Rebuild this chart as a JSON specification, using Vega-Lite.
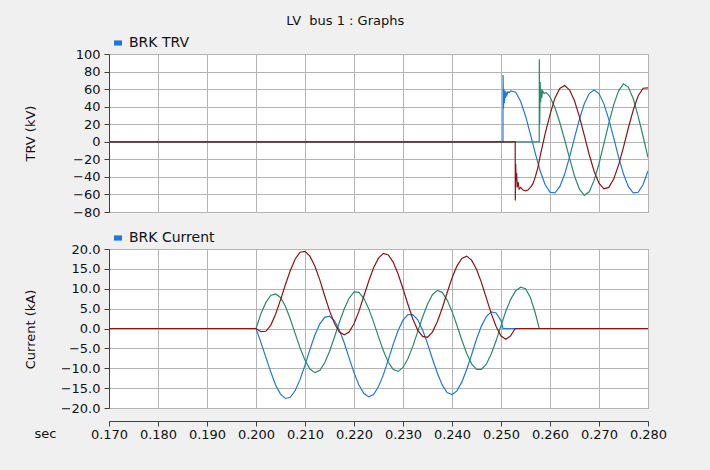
{
  "$schema": "https://vega.github.io/schema/vega-lite/v6.json",
  "background": "#f0f0f0",
  "padding": {"left": 23, "top": 14, "right": 43, "bottom": 28},
  "title": {"text": "LV\u00a0 bus 1 : Graphs", "fontSize": 13, "font": "DejaVu Sans", "fontWeight": "normal", "color": "#111111", "anchor": "middle", "offset": 8},
  "config": {
    "font": "DejaVu Sans",
    "view": {"fill": "#ffffff", "stroke": "#a0a0a0"},
    "axis": {"zindex": 1, "labelFont": "DejaVu Sans", "labelFontSize": 13, "labelColor": "#111111", "titleFont": "DejaVu Sans", "titleFontSize": 13, "titleFontWeight": "normal", "titleColor": "#111111", "gridColor": "#b4b4b4", "gridOpacity": 1, "gridWidth": 1, "domainColor": "#404040", "tickColor": "#404040", "tickSize": 5, "labelPadding": 4},
    "legend": {"labelFont": "DejaVu Sans", "labelFontSize": 14, "labelColor": "#111111"}
  },
  "datasets": {
    "cur": [
      {"p":"a","t":0.17,"v":0},{"p":"a","t":0.2,"v":0},{"p":"a","t":0.201,"v":-3.5},{"p":"a","t":0.202,"v":-7.2},{"p":"a","t":0.203,"v":-10.9},{"p":"a","t":0.204,"v":-14.2},{"p":"a","t":0.205,"v":-16.5},{"p":"a","t":0.206,"v":-17.6},{"p":"a","t":0.207,"v":-17.3},{"p":"a","t":0.208,"v":-15.6},{"p":"a","t":0.209,"v":-12.8},{"p":"a","t":0.21,"v":-9.2},{"p":"a","t":0.211,"v":-5.3},{"p":"a","t":0.212,"v":-1.7},{"p":"a","t":0.213,"v":1.1},{"p":"a","t":0.214,"v":2.8},{"p":"a","t":0.215,"v":3.1},{"p":"a","t":0.216,"v":2.0},{"p":"a","t":0.217,"v":-0.3},{"p":"a","t":0.218,"v":-3.6},{"p":"a","t":0.219,"v":-7.4},{"p":"a","t":0.22,"v":-11.1},{"p":"a","t":0.221,"v":-14.2},{"p":"a","t":0.222,"v":-16.3},{"p":"a","t":0.223,"v":-17.2},{"p":"a","t":0.224,"v":-16.6},{"p":"a","t":0.225,"v":-14.6},{"p":"a","t":0.226,"v":-11.6},{"p":"a","t":0.227,"v":-7.9},{"p":"a","t":0.228,"v":-4.0},{"p":"a","t":0.229,"v":-0.5},{"p":"a","t":0.23,"v":2.1},{"p":"a","t":0.231,"v":3.5},{"p":"a","t":0.232,"v":3.5},{"p":"a","t":0.233,"v":2.2},{"p":"a","t":0.234,"v":-0.4},{"p":"a","t":0.235,"v":-3.8},{"p":"a","t":0.236,"v":-7.6},{"p":"a","t":0.237,"v":-11.2},{"p":"a","t":0.238,"v":-14.2},{"p":"a","t":0.239,"v":-16.1},{"p":"a","t":0.24,"v":-16.6},{"p":"a","t":0.241,"v":-15.7},{"p":"a","t":0.242,"v":-13.5},{"p":"a","t":0.243,"v":-10.3},{"p":"a","t":0.244,"v":-6.6},{"p":"a","t":0.245,"v":-2.7},{"p":"a","t":0.246,"v":0.6},{"p":"a","t":0.247,"v":3.0},{"p":"a","t":0.248,"v":4.2},{"p":"a","t":0.249,"v":3.9},{"p":"a","t":0.25,"v":2.0},{"p":"a","t":0.2504,"v":0},{"p":"a","t":0.28,"v":0},
      {"p":"b","t":0.17,"v":0},{"p":"b","t":0.2,"v":0},{"p":"b","t":0.201,"v":3.7},{"p":"b","t":0.202,"v":6.5},{"p":"b","t":0.203,"v":8.3},{"p":"b","t":0.204,"v":8.7},{"p":"b","t":0.205,"v":7.8},{"p":"b","t":0.206,"v":5.6},{"p":"b","t":0.207,"v":2.4},{"p":"b","t":0.208,"v":-1.3},{"p":"b","t":0.209,"v":-4.9},{"p":"b","t":0.21,"v":-8.0},{"p":"b","t":0.211,"v":-10.2},{"p":"b","t":0.212,"v":-11.1},{"p":"b","t":0.213,"v":-10.6},{"p":"b","t":0.214,"v":-8.7},{"p":"b","t":0.215,"v":-5.8},{"p":"b","t":0.216,"v":-2.2},{"p":"b","t":0.217,"v":1.5},{"p":"b","t":0.218,"v":4.9},{"p":"b","t":0.219,"v":7.6},{"p":"b","t":0.22,"v":9.2},{"p":"b","t":0.221,"v":9.1},{"p":"b","t":0.222,"v":7.6},{"p":"b","t":0.223,"v":5.0},{"p":"b","t":0.224,"v":1.6},{"p":"b","t":0.225,"v":-2.1},{"p":"b","t":0.226,"v":-5.6},{"p":"b","t":0.227,"v":-8.5},{"p":"b","t":0.228,"v":-10.3},{"p":"b","t":0.229,"v":-10.8},{"p":"b","t":0.23,"v":-9.8},{"p":"b","t":0.231,"v":-7.6},{"p":"b","t":0.232,"v":-4.5},{"p":"b","t":0.233,"v":-0.8},{"p":"b","t":0.234,"v":2.9},{"p":"b","t":0.235,"v":6.1},{"p":"b","t":0.236,"v":8.5},{"p":"b","t":0.237,"v":9.6},{"p":"b","t":0.238,"v":9.1},{"p":"b","t":0.239,"v":7.2},{"p":"b","t":0.24,"v":4.3},{"p":"b","t":0.241,"v":0.8},{"p":"b","t":0.242,"v":-2.9},{"p":"b","t":0.243,"v":-6.3},{"p":"b","t":0.244,"v":-8.9},{"p":"b","t":0.245,"v":-10.3},{"p":"b","t":0.246,"v":-10.3},{"p":"b","t":0.247,"v":-9.0},{"p":"b","t":0.248,"v":-6.4},{"p":"b","t":0.249,"v":-3.1},{"p":"b","t":0.25,"v":0.7},{"p":"b","t":0.251,"v":4.4},{"p":"b","t":0.252,"v":7.4},{"p":"b","t":0.253,"v":9.5},{"p":"b","t":0.254,"v":10.4},{"p":"b","t":0.255,"v":10.0},{"p":"b","t":0.256,"v":7.8},{"p":"b","t":0.257,"v":3.9},{"p":"b","t":0.2578,"v":0},{"p":"b","t":0.28,"v":0},
      {"p":"c","t":0.17,"v":0},{"p":"c","t":0.2,"v":0},{"p":"c","t":0.201,"v":-0.8},{"p":"c","t":0.202,"v":-0.7},{"p":"c","t":0.203,"v":0.8},{"p":"c","t":0.204,"v":3.6},{"p":"c","t":0.205,"v":7.2},{"p":"c","t":0.206,"v":11.0},{"p":"c","t":0.207,"v":14.6},{"p":"c","t":0.208,"v":17.5},{"p":"c","t":0.209,"v":19.2},{"p":"c","t":0.21,"v":19.4},{"p":"c","t":0.211,"v":18.2},{"p":"c","t":0.212,"v":15.7},{"p":"c","t":0.213,"v":12.3},{"p":"c","t":0.214,"v":8.3},{"p":"c","t":0.215,"v":4.5},{"p":"c","t":0.216,"v":1.3},{"p":"c","t":0.217,"v":-0.9},{"p":"c","t":0.218,"v":-1.6},{"p":"c","t":0.219,"v":-0.9},{"p":"c","t":0.22,"v":1.2},{"p":"c","t":0.221,"v":4.3},{"p":"c","t":0.222,"v":8.1},{"p":"c","t":0.223,"v":11.9},{"p":"c","t":0.224,"v":15.3},{"p":"c","t":0.225,"v":17.7},{"p":"c","t":0.226,"v":18.9},{"p":"c","t":0.227,"v":18.5},{"p":"c","t":0.228,"v":16.7},{"p":"c","t":0.229,"v":13.7},{"p":"c","t":0.23,"v":10.0},{"p":"c","t":0.231,"v":6.1},{"p":"c","t":0.232,"v":2.4},{"p":"c","t":0.233,"v":-0.4},{"p":"c","t":0.234,"v":-2.0},{"p":"c","t":0.235,"v":-2.2},{"p":"c","t":0.236,"v":-0.9},{"p":"c","t":0.237,"v":1.7},{"p":"c","t":0.238,"v":5.1},{"p":"c","t":0.239,"v":9.0},{"p":"c","t":0.24,"v":12.7},{"p":"c","t":0.241,"v":15.7},{"p":"c","t":0.242,"v":17.6},{"p":"c","t":0.243,"v":18.2},{"p":"c","t":0.244,"v":17.2},{"p":"c","t":0.245,"v":14.9},{"p":"c","t":0.246,"v":11.6},{"p":"c","t":0.247,"v":7.7},{"p":"c","t":0.248,"v":3.8},{"p":"c","t":0.249,"v":0.5},{"p":"c","t":0.25,"v":-1.9},{"p":"c","t":0.251,"v":-2.7},{"p":"c","t":0.252,"v":-1.8},{"p":"c","t":0.2529,"v":0},{"p":"c","t":0.28,"v":0}
    ],
    "trv": [
      {"p":"a","t":0.17,"v":0},{"p":"a","t":0.2504,"v":0},{"p":"a","t":0.25042,"v":76},{"p":"a","t":0.2505,"v":38},{"p":"a","t":0.2506,"v":60},{"p":"a","t":0.2507,"v":44},{"p":"a","t":0.2508,"v":58},{"p":"a","t":0.2509,"v":50},{"p":"a","t":0.251,"v":57},{"p":"a","t":0.2512,"v":53},{"p":"a","t":0.2514,"v":57},{"p":"a","t":0.2517,"v":56},{"p":"a","t":0.252,"v":58},{"p":"a","t":0.253,"v":56.4},{"p":"a","t":0.254,"v":46.1},{"p":"a","t":0.255,"v":29.5},{"p":"a","t":0.256,"v":8.8},{"p":"a","t":0.257,"v":-13.2},{"p":"a","t":0.258,"v":-33.3},{"p":"a","t":0.259,"v":-48.7},{"p":"a","t":0.26,"v":-57.5},{"p":"a","t":0.261,"v":-58.3},{"p":"a","t":0.262,"v":-51.1},{"p":"a","t":0.263,"v":-36.8},{"p":"a","t":0.264,"v":-17.3},{"p":"a","t":0.265,"v":4.4},{"p":"a","t":0.266,"v":25.6},{"p":"a","t":0.267,"v":43.3},{"p":"a","t":0.268,"v":54.9},{"p":"a","t":0.269,"v":59.0},{"p":"a","t":0.27,"v":54.9},{"p":"a","t":0.271,"v":43.2},{"p":"a","t":0.272,"v":25.6},{"p":"a","t":0.273,"v":4.4},{"p":"a","t":0.274,"v":-17.5},{"p":"a","t":0.275,"v":-36.8},{"p":"a","t":0.276,"v":-51.1},{"p":"a","t":0.277,"v":-58.3},{"p":"a","t":0.278,"v":-57.5},{"p":"a","t":0.279,"v":-48.7},{"p":"a","t":0.28,"v":-33.3},
      {"p":"b","t":0.17,"v":0},{"p":"b","t":0.2578,"v":0},{"p":"b","t":0.25782,"v":94},{"p":"b","t":0.2579,"v":20},{"p":"b","t":0.258,"v":68},{"p":"b","t":0.2581,"v":45},{"p":"b","t":0.2582,"v":60},{"p":"b","t":0.2583,"v":50},{"p":"b","t":0.2585,"v":58},{"p":"b","t":0.2588,"v":55},{"p":"b","t":0.2592,"v":56},{"p":"b","t":0.2596,"v":54},{"p":"b","t":0.26,"v":51},{"p":"b","t":0.261,"v":39},{"p":"b","t":0.262,"v":22},{"p":"b","t":0.263,"v":2},{"p":"b","t":0.264,"v":-19},{"p":"b","t":0.265,"v":-39},{"p":"b","t":0.266,"v":-54},{"p":"b","t":0.267,"v":-61},{"p":"b","t":0.268,"v":-57},{"p":"b","t":0.269,"v":-44},{"p":"b","t":0.27,"v":-25},{"p":"b","t":0.271,"v":-2},{"p":"b","t":0.272,"v":21},{"p":"b","t":0.273,"v":42},{"p":"b","t":0.274,"v":58},{"p":"b","t":0.275,"v":66},{"p":"b","t":0.276,"v":62},{"p":"b","t":0.277,"v":49},{"p":"b","t":0.278,"v":29},{"p":"b","t":0.279,"v":6},{"p":"b","t":0.28,"v":-18},
      {"p":"c","t":0.17,"v":0},{"p":"c","t":0.2529,"v":0},{"p":"c","t":0.25292,"v":-67},{"p":"c","t":0.253,"v":-25},{"p":"c","t":0.2531,"v":-45},{"p":"c","t":0.2532,"v":-36},{"p":"c","t":0.2533,"v":-52},{"p":"c","t":0.2535,"v":-46},{"p":"c","t":0.2537,"v":-54},{"p":"c","t":0.254,"v":-52},{"p":"c","t":0.2545,"v":-55},{"p":"c","t":0.255,"v":-56},{"p":"c","t":0.2555,"v":-55},{"p":"c","t":0.256,"v":-52},{"p":"c","t":0.2565,"v":-48},{"p":"c","t":0.257,"v":-40},{"p":"c","t":0.2575,"v":-30},{"p":"c","t":0.258,"v":-16},{"p":"c","t":0.259,"v":9},{"p":"c","t":0.26,"v":31},{"p":"c","t":0.261,"v":49.7},{"p":"c","t":0.262,"v":60.7},{"p":"c","t":0.263,"v":64.0},{"p":"c","t":0.264,"v":59.0},{"p":"c","t":0.265,"v":46.7},{"p":"c","t":0.266,"v":28.6},{"p":"c","t":0.267,"v":7.2},{"p":"c","t":0.268,"v":-14.5},{"p":"c","t":0.269,"v":-33.5},{"p":"c","t":0.27,"v":-47.2},{"p":"c","t":0.271,"v":-53.6},{"p":"c","t":0.272,"v":-52.0},{"p":"c","t":0.273,"v":-42.5},{"p":"c","t":0.274,"v":-26.3},{"p":"c","t":0.275,"v":-6.0},{"p":"c","t":0.276,"v":16.0},{"p":"c","t":0.277,"v":36.4},{"p":"c","t":0.278,"v":52.5},{"p":"c","t":0.279,"v":61.0},{"p":"c","t":0.28,"v":61.5}
    ]
  },
  "spacing": 10,
  "resolve": {"scale": {"color": "independent"}, "legend": {"color": "independent"}},
  "vconcat": [
    {
      "width": 539,
      "height": 158,
      "layer": [
        {
          "mark": {"type": "rect", "fill": "#ffffff", "stroke": null},
          "encoding": {
            "x": {"datum": 0.17, "type": "quantitative", "scale": {"domain": [0.17, 0.28], "nice": false, "zero": false},
                  "axis": {"values": [0.17, 0.18, 0.19, 0.2, 0.21, 0.22, 0.23, 0.24, 0.25, 0.26, 0.27, 0.28], "labels": false, "ticks": false, "domain": false, "title": null, "grid": true}},
            "x2": {"datum": 0.28},
            "y": {"datum": -80, "type": "quantitative", "scale": {"domain": [-80, 100], "nice": false, "zero": false},
                  "axis": {"title": "TRV (kV)", "values": [-80, -60, -40, -20, 0, 20, 40, 60, 80, 100], "format": "d", "grid": true, "titleX": -79, "titleY": 79, "titleBaseline": "middle", "titleAlign": "center", "labelFlush": false, "labelOverlap": false}},
            "y2": {"datum": 100}
          }
        },
        {
          "data": {"name": "trv"},
          "mark": {"type": "line", "strokeWidth": 1.2, "clip": true},
          "encoding": {
            "x": {"field": "t", "type": "quantitative", "scale": {"domain": [0.17, 0.28], "nice": false, "zero": false},
                  "axis": {"values": [0.17, 0.18, 0.19, 0.2, 0.21, 0.22, 0.23, 0.24, 0.25, 0.26, 0.27, 0.28], "labels": false, "ticks": false, "domain": false, "title": null, "grid": true}},
            "y": {"field": "v", "type": "quantitative", "scale": {"domain": [-80, 100], "nice": false, "zero": false},
                  "axis": {"title": "TRV (kV)", "values": [-80, -60, -40, -20, 0, 20, 40, 60, 80, 100], "format": "d", "grid": true, "titleX": -79, "titleY": 79, "titleBaseline": "middle", "titleAlign": "center", "labelFlush": false, "labelOverlap": false}},
            "color": {"field": "p", "type": "nominal", "scale": {"domain": ["a", "b", "c"], "range": ["#1f78d8", "#2a8a6c", "#8c1217"]},
                      "legend": {"orient": "top", "title": null, "values": ["a"], "labelExpr": "'BRK TRV'", "symbolType": "M-1,-0.65L1,-0.65L1,0.65L-1,0.65Z", "symbolSize": 64, "symbolOffset": 2, "labelOffset": 4, "offset": 4, "padding": 0,
                                 "encode": {"symbols": {"update": {"fill": {"value": "#1f78d8"}, "stroke": {"value": "transparent"}, "strokeWidth": {"value": 0}, "opacity": {"value": 1}}}}}}
          }
        }
      ]
    },
    {
      "width": 539,
      "height": 159,
      "layer": [
        {
          "mark": {"type": "rect", "fill": "#ffffff", "stroke": null},
          "encoding": {
            "x": {"datum": 0.17, "type": "quantitative", "scale": {"domain": [0.17, 0.28], "nice": false, "zero": false},
                  "axis": {"values": [0.17, 0.18, 0.19, 0.2, 0.21, 0.22, 0.23, 0.24, 0.25, 0.26, 0.27, 0.28], "format": ".3f", "title": "sec", "titleX": -64, "titleY": 12, "titleAlign": "center", "titleBaseline": "middle", "offset": 13, "labelPadding": 2, "grid": true, "labelFlush": false, "labelOverlap": false}},
            "x2": {"datum": 0.28},
            "y": {"datum": -20, "type": "quantitative", "scale": {"domain": [-20, 20], "nice": false, "zero": false},
                  "axis": {"title": "Current (kA)", "values": [-20, -15, -10, -5, 0, 5, 10, 15, 20], "format": ".1f", "grid": true, "titleX": -79, "titleY": 80, "titleBaseline": "middle", "titleAlign": "center", "labelFlush": false, "labelOverlap": false}},
            "y2": {"datum": 20}
          }
        },
        {
          "data": {"name": "cur"},
          "mark": {"type": "line", "strokeWidth": 1.2, "clip": true},
          "encoding": {
            "x": {"field": "t", "type": "quantitative", "scale": {"domain": [0.17, 0.28], "nice": false, "zero": false},
                  "axis": {"values": [0.17, 0.18, 0.19, 0.2, 0.21, 0.22, 0.23, 0.24, 0.25, 0.26, 0.27, 0.28], "format": ".3f", "title": "sec", "titleX": -64, "titleY": 12, "titleAlign": "center", "titleBaseline": "middle", "offset": 13, "labelPadding": 2, "grid": true, "labelFlush": false, "labelOverlap": false}},
            "y": {"field": "v", "type": "quantitative", "scale": {"domain": [-20, 20], "nice": false, "zero": false},
                  "axis": {"title": "Current (kA)", "values": [-20, -15, -10, -5, 0, 5, 10, 15, 20], "format": ".1f", "grid": true, "titleX": -79, "titleY": 80, "titleBaseline": "middle", "titleAlign": "center", "labelFlush": false, "labelOverlap": false}},
            "color": {"field": "p", "type": "nominal", "scale": {"domain": ["a", "b", "c"], "range": ["#1f78d8", "#2a8a6c", "#8c1217"]},
                      "legend": {"orient": "top", "title": null, "values": ["a"], "labelExpr": "'BRK Current'", "symbolType": "M-1,-0.65L1,-0.65L1,0.65L-1,0.65Z", "symbolSize": 64, "symbolOffset": 2, "labelOffset": 4, "offset": 4, "padding": 0,
                                 "encode": {"symbols": {"update": {"fill": {"value": "#1f78d8"}, "stroke": {"value": "transparent"}, "strokeWidth": {"value": 0}, "opacity": {"value": 1}}}}}}
          }
        }
      ]
    }
  ]
}
